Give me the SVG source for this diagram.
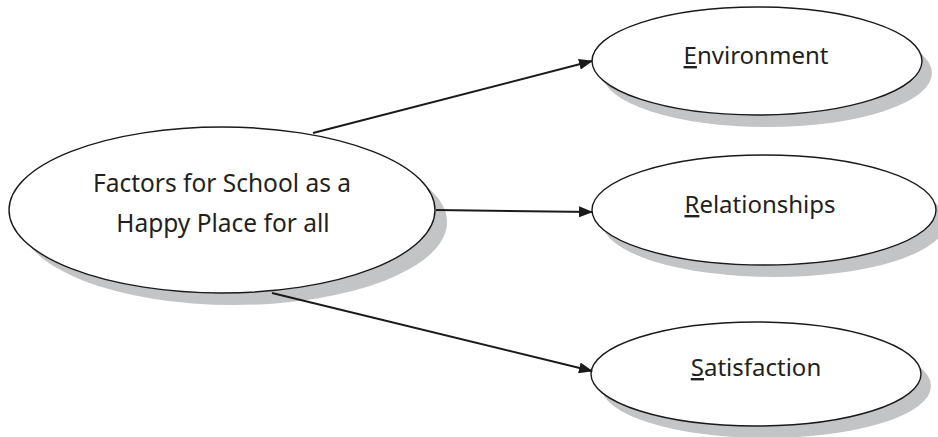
<svg xmlns="http://www.w3.org/2000/svg" width="938" height="437" viewBox="0 0 938 437">
<defs>
<style>
.sh{fill:#c3c4c6;stroke:none}
.el{fill:#fff;stroke:#1a1a1a;stroke-width:1.4}
.t{font-family:"Noto Sans","Open Sans",sans-serif;font-size:24px;fill:#231f20;text-anchor:middle}
.tm{font-size:24.5px}
.u{text-decoration:underline}
.c{stroke:#1a1a1a;stroke-width:2;fill:none;marker-end:url(#ah)}
</style>
<marker id="ah" markerWidth="14" markerHeight="11" refX="13" refY="5.5" orient="auto" markerUnits="userSpaceOnUse">
<path d="M0,0 L14,5.5 L0,11 Z" fill="#1a1a1a"/>
</marker>
</defs>
<rect width="938" height="437" fill="#fff"/>
<g id="main">
<ellipse class="sh" cx="234" cy="222" rx="213" ry="83"/>
<ellipse class="el" cx="222" cy="210" rx="213" ry="83"/>
<text class="t tm" x="222" y="192">Factors for School as a</text>
<text class="t tm" x="223" y="232">Happy Place for all</text>
</g>
<g id="environment">
<ellipse class="sh" cx="767" cy="73" rx="165" ry="54"/>
<ellipse class="el" cx="757" cy="61" rx="165" ry="54"/>
<text class="t" x="756" y="64"><tspan class="u">E</tspan>nvironment</text>
</g>
<g id="relationships">
<ellipse class="sh" cx="774" cy="222" rx="172" ry="55"/>
<ellipse class="el" cx="764" cy="210" rx="172" ry="55"/>
<text class="t" x="760" y="213"><tspan class="u">R</tspan>elationships</text>
</g>
<g id="satisfaction">
<ellipse class="sh" cx="766" cy="386" rx="165" ry="52"/>
<ellipse class="el" cx="756" cy="374" rx="165" ry="52"/>
<text class="t" x="756" y="376"><tspan class="u">S</tspan>atisfaction</text>
</g>
<g id="connectors">
<line class="c" x1="313" y1="133" x2="592" y2="61"/>
<line class="c" x1="436" y1="210" x2="592" y2="212"/>
<line class="c" x1="272" y1="293" x2="592" y2="371"/>
</g>
</svg>
